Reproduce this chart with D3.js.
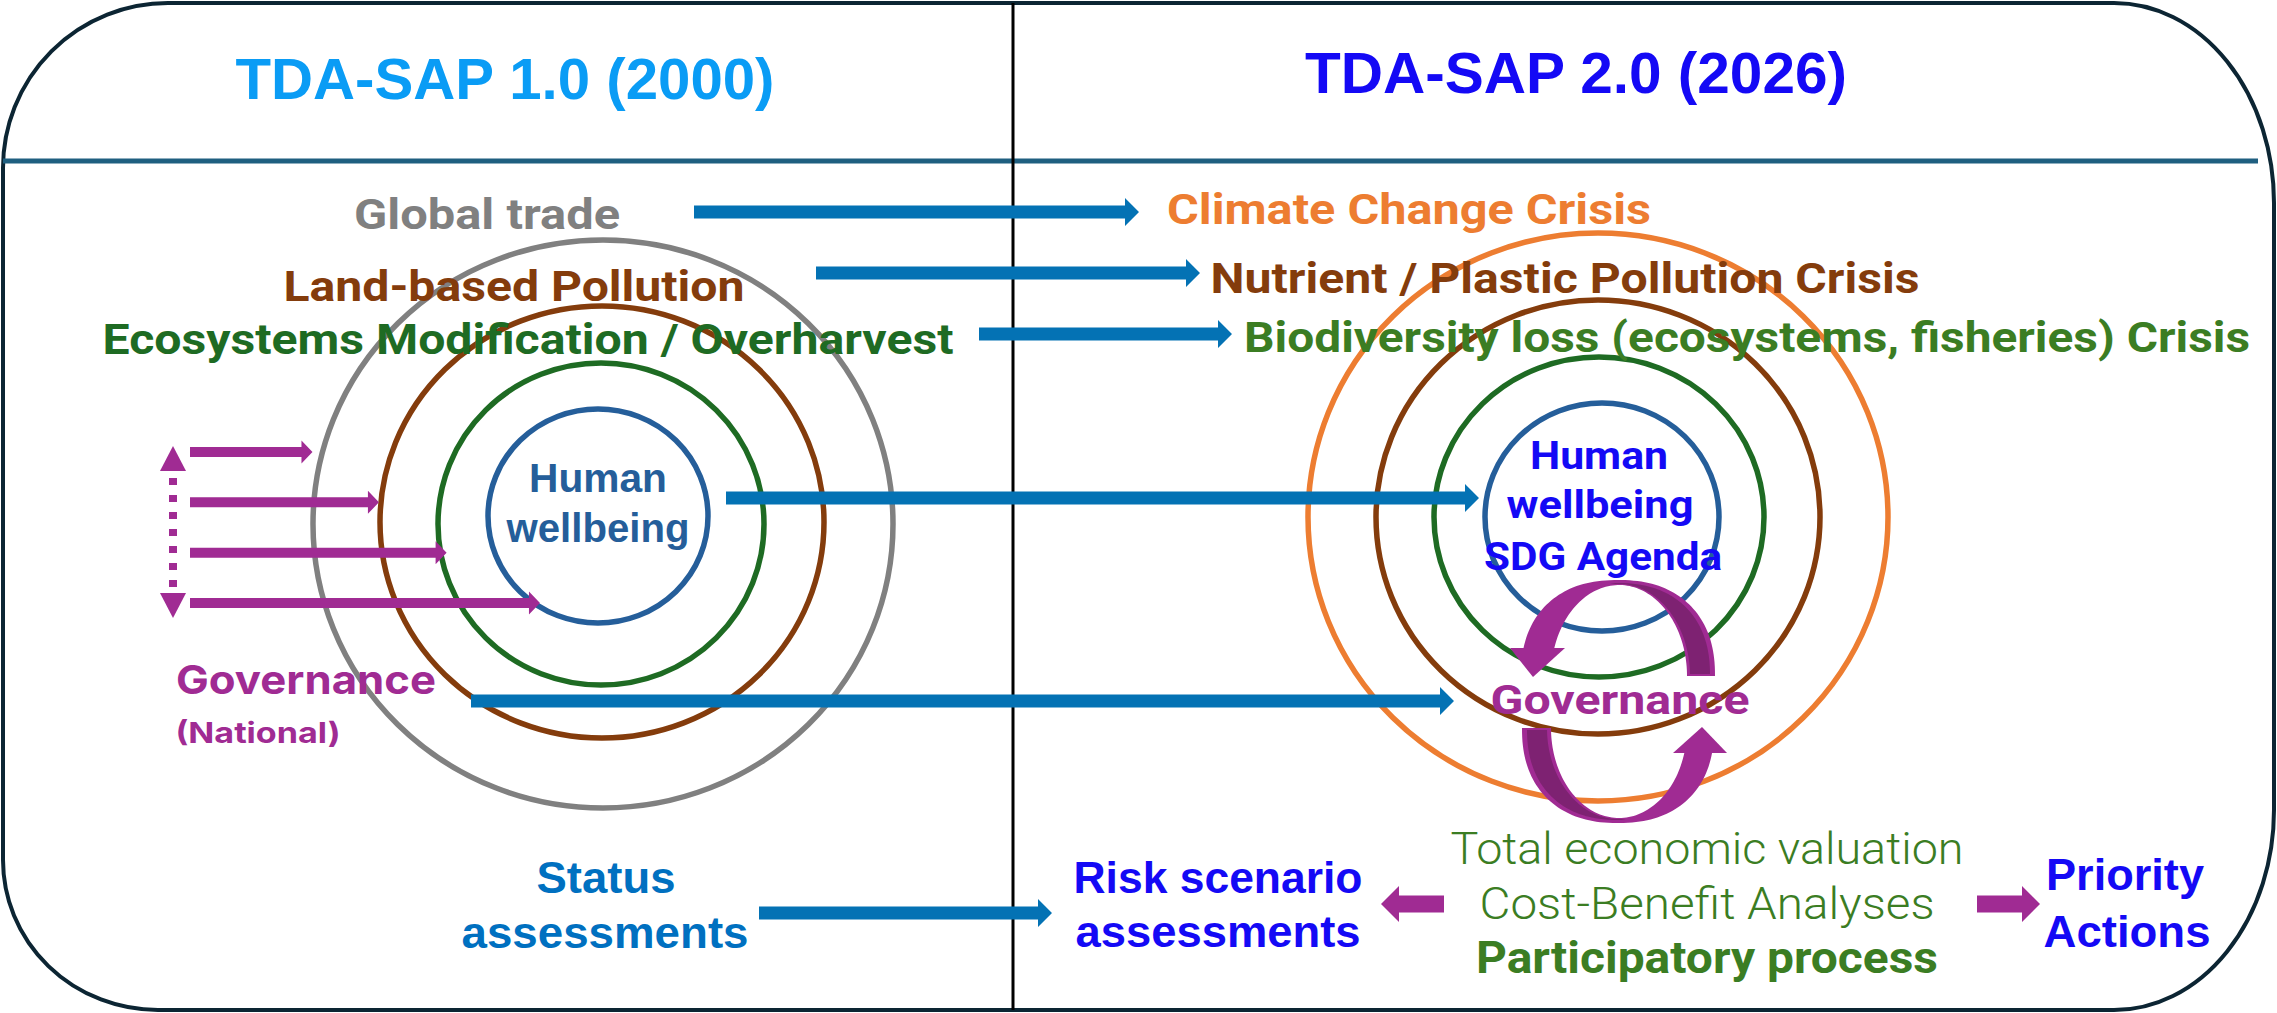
<!DOCTYPE html>
<html>
<head>
<meta charset="utf-8">
<script src="https://cdn.jsdelivr.net/npm/d3@7"></script>
<style>
  body { margin: 0; background: #fff; }
</style>
</head>
<body>
<svg id="chart"></svg>
<script>
// ---- content of the diagram ----
var headers = ['TDA-SAP 1.0 (2000)', 'TDA-SAP 2.0 (2026)'];
var pressures2000 = ['Global trade', 'Land-based Pollution', 'Ecosystems Modification / Overharvest'];
var crises2026 = ['Climate Change Crisis', 'Nutrient / Plastic Pollution Crisis', 'Biodiversity loss (ecosystems, fisheries) Crisis'];
var rings2000 = ['trade', 'pollution', 'ecosystems', 'wellbeing'];
var rings2026 = ['climate', 'pollution', 'biodiversity', 'wellbeing'];
var core2000 = ['Human', 'wellbeing'];
var core2026 = ['Human', 'wellbeing', 'SDG Agenda'];
var governance2000 = ['Governance', '(National)'];
var governance2026 = ['Governance'];
var assess2000 = ['Status', 'assessments'];
var assess2026 = ['Risk scenario', 'assessments'];
var valuation = ['Total economic valuation', 'Cost-Benefit Analyses', 'Participatory process'];
var actions = ['Priority', 'Actions'];
// national governance arrows, each one reaching one ring deeper
var govReach = ['trade', 'pollution', 'ecosystems', 'wellbeing'];

var W = 2277, H = 1013;
var svg = d3.select('#chart').attr('width', W).attr('height', H);

var ARIAL = "'Liberation Sans', Arial, sans-serif";
var DIN = "Roboto, 'Noto Sans', sans-serif";
var INTER = "Inter, 'Liberation Sans', sans-serif";

var col = {
  frame: '#0c2533', rule: '#1f5f80',
  sky: '#0a9cf5', blue: '#1409f5', steel: '#255e9a', status: '#0070c0',
  gray: '#808080', brown: '#843c0c', green: '#1e6b23', leaf: '#3b7d23', orange: '#ed7d31',
  arrow: '#0472b4', purple: '#a02b93', purpleDark: '#7e2272'
};

// ---- frame ----
var x0 = 3, y0 = 3, x1 = 2274, y1 = 1010;
svg.append('path')
  .attr('d', 'M' + (x0 + 165) + ',' + y0 + ' L' + (x1 - 160) + ',' + y0 +
    ' A160,200 0 0 1 ' + x1 + ',' + (y0 + 200) + ' L' + x1 + ',' + (y1 - 200) +
    ' A160,200 0 0 1 ' + (x1 - 160) + ',' + y1 + ' L' + (x0 + 155) + ',' + y1 +
    ' A155,150 0 0 1 ' + x0 + ',' + (y1 - 150) + ' L' + x0 + ',' + (y0 + 165) +
    ' A165,165 0 0 1 ' + (x0 + 165) + ',' + y0 + ' Z')
  .attr('fill', 'none').attr('stroke', col.frame).attr('stroke-width', 4);
svg.append('line').attr('x1', x0).attr('x2', 2258).attr('y1', 161).attr('y2', 161)
  .attr('stroke', col.rule).attr('stroke-width', 5);
svg.append('line').attr('x1', 1013).attr('x2', 1013).attr('y1', y0).attr('y2', y1)
  .attr('stroke', '#000').attr('stroke-width', 3);

// ---- rings ----
var ringColourL = d3.scaleOrdinal().domain(rings2000).range([col.gray, col.brown, col.green, col.steel]);
var ringColourR = d3.scaleOrdinal().domain(rings2026).range([col.orange, col.brown, col.green, col.steel]);
var ringL = {
  cx: d3.scaleOrdinal().domain(rings2000).range([603, 602, 601, 598]),
  cy: d3.scaleOrdinal().domain(rings2000).range([524, 522, 524, 516]),
  rx: d3.scaleOrdinal().domain(rings2000).range([290, 222, 163, 110]),
  ry: d3.scaleOrdinal().domain(rings2000).range([284, 216, 161, 107])
};
var ringR = {
  cx: d3.scaleOrdinal().domain(rings2026).range([1598, 1598, 1599, 1602]),
  cy: d3.scaleOrdinal().domain(rings2026).range([517, 517, 517, 517]),
  rx: d3.scaleOrdinal().domain(rings2026).range([290, 222, 165, 117]),
  ry: d3.scaleOrdinal().domain(rings2026).range([284, 217, 160, 114])
};

function drawRings(names, ring, colour) {
  svg.append('g').selectAll('ellipse').data(names).join('ellipse')
    .attr('cx', function (d) { return ring.cx(d); })
    .attr('cy', function (d) { return ring.cy(d); })
    .attr('rx', function (d) { return ring.rx(d); })
    .attr('ry', function (d) { return ring.ry(d); })
    .attr('fill', 'none')
    .attr('stroke', function (d) { return colour(d); })
    .attr('stroke-width', 5.5);
}
drawRings(rings2000, ringL, ringColourL);
drawRings(rings2026, ringR, ringColourR);

// ---- arrows ----
function blockArrow(ax, bx, y, o) {
  var t = o.shaft / 2, h = o.head / 2;
  var dir = bx > ax ? 1 : -1;
  var xb = bx - dir * o.len;
  var pts = [[ax, y - t], [xb, y - t], [xb, y - h], [bx, y], [xb, y + h], [xb, y + t], [ax, y + t]];
  svg.append('polygon').attr('points', pts.join(' ')).attr('fill', o.color);
}
var blueArrow = { shaft: 13, head: 28, len: 14, color: col.arrow };

var pressureY = d3.scalePoint().domain(pressures2000).range([212, 334]);
var pressureStart = d3.scaleOrdinal().domain(pressures2000).range([694, 816, 979]);
var pressureEnd = d3.scaleOrdinal().domain(pressures2000).range([1139, 1200, 1232]);
pressures2000.forEach(function (p) {
  blockArrow(pressureStart(p), pressureEnd(p), pressureY(p), blueArrow);
});
blockArrow(726, 1479, 498, blueArrow);   // wellbeing -> wellbeing
blockArrow(471, 1454, 701, blueArrow);   // governance -> governance
blockArrow(759, 1052, 913, blueArrow);   // status -> risk scenario

// national governance arrows stop on the ring they reach
var govY = d3.scalePoint().domain(govReach).range([452, 603]);
var govOverlap = d3.scaleOrdinal().domain(govReach).range([-10, -2, 6, 6]);
function ringLeftEdge(name, y) {
  var k = (y - ringL.cy(name)) / ringL.ry(name);
  return ringL.cx(name) - ringL.rx(name) * Math.sqrt(Math.max(0, 1 - k * k));
}
govReach.forEach(function (r) {
  blockArrow(190, ringLeftEdge(r, govY(r)) + govOverlap(r), govY(r),
    { shaft: 10, head: 23, len: 11, color: col.purple });
});
// dotted double-headed arrow
svg.append('line').attr('x1', 173).attr('x2', 173).attr('y1', 478).attr('y2', 592)
  .attr('stroke', col.purple).attr('stroke-width', 8).attr('stroke-dasharray', '7,10');
svg.append('polygon').attr('points', [[173, 446], [186, 471], [160, 471]].join(' ')).attr('fill', col.purple);
svg.append('polygon').attr('points', [[173, 618], [186, 593], [160, 593]].join(' ')).attr('fill', col.purple);

// bottom purple arrows
var purpleArrow = { shaft: 17, head: 36, len: 18, color: col.purple };
blockArrow(1444, 1381, 904, purpleArrow);
blockArrow(1977, 2040, 904, purpleArrow);

// ---- governance loop (two curved ribbon arrows) ----
function sePt(e, t) {
  var c = Math.cos(t), s = Math.sin(t), p = 2 / e.n;
  return [e.cx + e.rx * Math.sign(c) * Math.pow(Math.abs(c), p),
          e.cy + e.ry * Math.sign(s) * Math.pow(Math.abs(s), p)];
}
function sinAt(e, y) {
  var k = Math.min(1, Math.abs(y - e.cy) / e.ry);
  return Math.sign(y - e.cy) * Math.pow(k, e.n / 2);
}
function tRight(e, y) { return Math.asin(sinAt(e, y)); }
function tLeft(e, y) { return Math.PI - Math.asin(sinAt(e, y)); }
function bandPath(eo, ei, oa, ob, ia, ib) {
  var n = 80, pts = [], i;
  for (i = 0; i <= n; i++) pts.push(sePt(eo, oa + (ob - oa) * i / n));
  for (i = n; i >= 0; i--) pts.push(sePt(ei, ia + (ib - ia) * i / n));
  return 'M' + pts.join('L') + 'Z';
}
var upOuter = { cx: 1618, cy: 676, rx: 97, ry: 96, n: 2.3 };
var upInner = { cx: 1619, cy: 676, rx: 68, ry: 91, n: 2 };
var upShade = { cx: 1617, cy: 676, rx: 93, ry: 93, n: 2.3 };
var upShadeIn = { cx: 1619, cy: 676, rx: 71, ry: 92, n: 2 };
var dnOuter = { cx: 1618, cy: 728, rx: 96, ry: 95, n: 2.3 };
var dnInner = { cx: 1619, cy: 728, rx: 68, ry: 90, n: 2 };
var dnShade = { cx: 1619, cy: 728, rx: 92, ry: 92, n: 2.3 };
var dnShadeIn = { cx: 1618, cy: 728, rx: 71, ry: 91, n: 2 };
var loop = svg.append('g');
// upper arc: right leg cut at y=676, over the top, to the arrow head at y=648
loop.append('path')
  .attr('d', bandPath(upOuter, upInner, 0, tLeft(upOuter, 648) - 2 * Math.PI,
    0, tLeft(upInner, 648) - 2 * Math.PI))
  .attr('fill', col.purple);
loop.append('path')
  .attr('d', bandPath(upShade, upShadeIn, tRight(upShade, 674), -Math.PI / 2 - 0.05,
    tRight(upShadeIn, 674), -Math.PI / 2 - 0.05))
  .attr('fill', col.purpleDark);
loop.append('polygon').attr('points', [[1533, 677], [1565, 648], [1510, 648]].join(' ')).attr('fill', col.purple);
// lower arc: left leg cut at y=728, under the bottom, to the arrow head at y=753
loop.append('path')
  .attr('d', bandPath(dnOuter, dnInner, Math.PI, tRight(dnOuter, 753),
    Math.PI, tRight(dnInner, 753)))
  .attr('fill', col.purple);
loop.append('path')
  .attr('d', bandPath(dnShade, dnShadeIn, tLeft(dnShade, 730), Math.PI / 2 - 0.05,
    tLeft(dnShadeIn, 730), Math.PI / 2 - 0.05))
  .attr('fill', col.purpleDark);
loop.append('polygon').attr('points', [[1702, 727], [1727, 753], [1673, 753]].join(' ')).attr('fill', col.purple);

// ---- text ----
function label(txt, x, y, o) {
  var t = svg.append('text').attr('x', x).attr('y', y).text(txt)
    .attr('font-family', o.font).attr('font-size', o.size)
    .attr('font-weight', o.weight || 700)
    .attr('fill', o.color).attr('text-anchor', 'middle');
  if (o.width) t.attr('textLength', o.width).attr('lengthAdjust', 'spacingAndGlyphs');
  return t;
}

label(headers[0], 505, 99, { font: ARIAL, size: 58, color: col.sky, width: 539 });
label(headers[1], 1576, 93, { font: ARIAL, size: 58, color: col.blue, width: 542 });

var pressureColour = d3.scaleOrdinal().domain(pressures2000).range([col.gray, col.brown, col.green]);
var pressureBase = [229, 301, 354], pressureMid = [487, 514, 528], pressureW = [266, 461, 851];
pressures2000.forEach(function (p, i) {
  label(p, pressureMid[i], pressureBase[i], { font: DIN, size: 42, color: pressureColour(p), width: pressureW[i] });
});
var crisisColour = d3.scaleOrdinal().domain(crises2026).range([col.orange, col.brown, col.leaf]);
var crisisBase = [224, 293, 352], crisisMid = [1409, 1565, 1747], crisisW = [484, 709, 1006];
crises2026.forEach(function (c, i) {
  label(c, crisisMid[i], crisisBase[i], { font: DIN, size: 42, color: crisisColour(c), width: crisisW[i] });
});

label(core2000[0], 598, 492, { font: ARIAL, size: 40, color: col.steel, width: 138 });
label(core2000[1], 598, 542, { font: ARIAL, size: 40, color: col.steel, width: 183 });

var coreBase = [469, 518, 570], coreMid = [1599, 1600, 1603], coreW = [138, 187, 238];
core2026.forEach(function (c, i) {
  label(c, coreMid[i], coreBase[i], { font: DIN, size: 38, color: col.blue, width: coreW[i] });
});

label(governance2000[0], 306, 694, { font: INTER, size: 40, color: col.purple, width: 260 });
label(governance2000[1], 258, 743, { font: INTER, size: 29, color: col.purple, width: 165 });
label(governance2026[0], 1620, 714, { font: DIN, size: 40, color: col.purple, width: 259 });

label(assess2000[0], 606, 893, { font: ARIAL, size: 44, color: col.status, width: 139 });
label(assess2000[1], 605, 948, { font: ARIAL, size: 44, color: col.status, width: 287 });
label(assess2026[0], 1218, 893, { font: ARIAL, size: 44, color: col.blue, width: 289 });
label(assess2026[1], 1218, 947, { font: ARIAL, size: 44, color: col.blue, width: 285 });

var valBase = [864, 919, 973], valW = [513, 455, 462], valWeight = [300, 300, 700];
valuation.forEach(function (v, i) {
  label(v, 1707, valBase[i], { font: DIN, size: 44, color: col.leaf, width: valW[i], weight: valWeight[i] });
});

label(actions[0], 2125, 890, { font: ARIAL, size: 44, color: col.blue, width: 158 });
label(actions[1], 2127, 947, { font: ARIAL, size: 44, color: col.blue, width: 167 });
</script>
</body>
</html>
